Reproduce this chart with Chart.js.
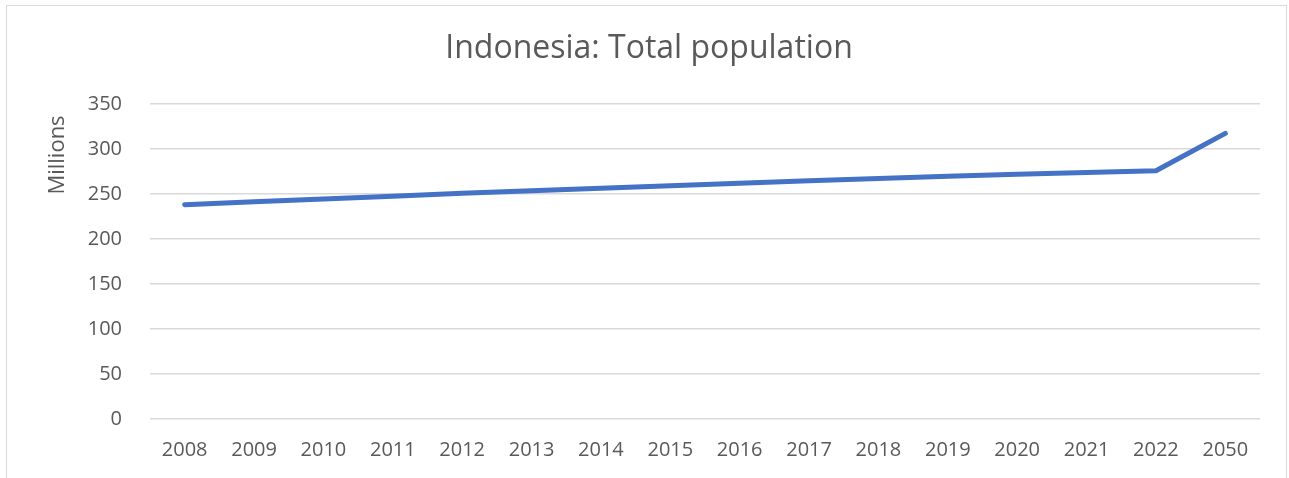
<!DOCTYPE html>
<html>
<head>
<meta charset="utf-8">
<script src="https://cdn.jsdelivr.net/npm/chart.js@4/dist/chart.umd.min.js"></script>
<style>
  html, body { margin: 0; padding: 0; background: #ffffff; overflow: hidden; }
  #wrap { position: relative; width: 1289px; height: 478px; }
  #frame { position: absolute; left: 6px; top: 5px; width: 1281px; height: 490px;
           border: 1px solid #d9d9d9; box-sizing: border-box; pointer-events: none; }
  canvas { position: absolute; left: 0; top: 0; }
</style>
</head>
<body>
<div id="wrap">
  <canvas id="chart" width="1289" height="478"></canvas>
  <div id="frame"></div>
</div>
<script>
// Indonesia total population, millions
const years = ['2008', '2009', '2010', '2011', '2012', '2013', '2014', '2015',
               '2016', '2017', '2018', '2019', '2020', '2021', '2022', '2050'];
const population = [238.1, 241.3, 244.5, 247.6, 250.8, 253.7, 256.5, 259.2,
                    262.0, 264.6, 267.1, 269.6, 271.9, 274.0, 275.8, 317.4];
const yTicks = [0, 50, 100, 150, 200, 250, 300, 350];

const chartTitle = 'Indonesia: Total population';
const yAxisTitle = 'Millions';

const FONT = "'Open Sans', 'Liberation Sans', sans-serif";
const TEXT = '#595959';

// Title and rotated axis caption drawn on the canvas
const captions = {
  id: 'captions',
  afterDraw(chart) {
    const ctx = chart.ctx;
    ctx.save();
    ctx.fillStyle = TEXT;
    ctx.textAlign = 'center';
    ctx.textBaseline = 'middle';
    ctx.font = '32px ' + FONT;
    ctx.fillText(chartTitle, 649, 49);
    ctx.translate(58, 155);
    ctx.rotate(-Math.PI / 2);
    ctx.font = '22px ' + FONT;
    ctx.fillText(yAxisTitle, 0, 0);
    ctx.restore();
  }
};

new Chart(document.getElementById('chart'), {
  type: 'line',
  data: {
    labels: years,
    datasets: [{
      data: population,
      borderColor: '#4472C4',
      borderWidth: 5,
      borderCapStyle: 'round',
      borderJoinStyle: 'round',
      pointRadius: 0,
      tension: 0,
      fill: false
    }]
  },
  options: {
    responsive: false,
    animation: false,
    layout: { padding: { top: 104, right: 29, bottom: 0, left: 0 } },
    plugins: { legend: { display: false }, title: { display: false }, tooltip: { enabled: false } },
    scales: {
      x: {
        offset: true,
        grid: { display: false },
        border: { display: false },
        ticks: { color: TEXT, font: { family: FONT, size: 20 }, padding: 11, maxRotation: 0, autoSkip: false },
        afterFit(scale) { scale.height = 59; }
      },
      y: {
        min: 0,
        max: 350,
        afterBuildTicks(scale) { scale.ticks = yTicks.map(v => ({ value: v })); },
        grid: { color: '#d9d9d9', lineWidth: 1.5, drawTicks: false },
        border: { display: false },
        ticks: { color: TEXT, font: { family: FONT, size: 20 }, padding: 28 },
        afterFit(scale) { scale.width = 150; }
      }
    }
  },
  plugins: [captions]
});
</script>
</body>
</html>
